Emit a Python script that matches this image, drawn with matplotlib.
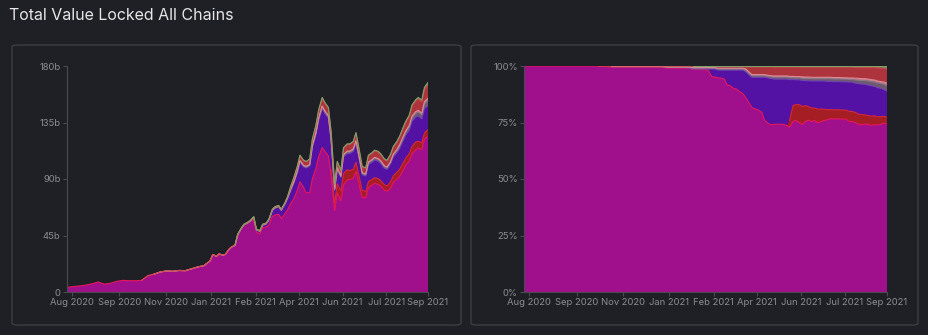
import matplotlib
matplotlib.use("Agg")
import matplotlib.pyplot as plt
import matplotlib.dates as mdates
from matplotlib.patches import FancyBboxPatch
from matplotlib.ticker import FixedLocator, FuncFormatter
import numpy as np
import pandas as pd

plt.rcParams['font.family'] = ['Inter', 'DejaVu Sans']

# dates: weekly in 2020, Mondays + Thursdays in 2021
dates_2020 = pd.date_range('2020-07-27', '2020-12-28', freq='7D')
dates_2021 = pd.date_range('2021-01-04', '2021-09-06', freq='W-MON').union(
    pd.date_range('2021-01-07', '2021-09-02', freq='W-THU'))
dates = dates_2020.append(dates_2021)

# total value locked, billions (top of the stack)
total = [
    3.7, 4.3, 4.8, 5.5, 6.5, 8.0, 6.3, 7.0, 8.5, 9.3, 9.0, 9.0,
    9.3, 13.0, 14.3, 16.0, 16.8, 16.5, 17.2, 17.0, 18.5, 20.0, 21.0,
    25, 30, 28.5, 30.5, 29.5, 30, 34, 36,                 # jan
    37.5, 46, 51, 54, 55.5, 57, 60, 50,                   # feb
    49, 54, 55, 58, 66, 68, 69, 66, 71,                   # mar
    76, 85, 91, 100, 109, 105, 104, 106, 122,             # apr
    133, 145, 155, 151, 147, 128, 86, 104, 97,            # may
    115, 118, 118, 120, 127, 112, 100, 99,                # jun
    109, 111, 113, 112, 110, 106, 105, 110, 116,          # jul
    120, 124, 131, 136, 141, 149, 153, 155, 153,          # aug
    163, 167,                                             # sep
]

# shares in percent of the non-ethereum chains
share_polygon = [
    0, 0, 0, 0, 0, 0, 0, 0, 0, 0, 0, 0,
    0, 0, 0, 0, 0, 0, 0, 0, 0, 0, 0,
    0, 0, 0, 0, 0, 0, 0, 0,
    0, 0, 0, 0, 0, 0, 0, 0,
    0, 0, 0, 0, 0, 0, 0, 0, 0,
    0, 0, 0, 0, 0, 0, 0, 0, 0,
    0, 0, 0, 0, 0, 3.0, 7.0, 7.0, 8.0,
    8.0, 7.0, 6.0, 6.0, 5.5, 6.0, 5.5, 5.0,
    4.5, 4.0, 4.0, 4.0, 4.0, 4.0, 4.0, 4.5, 4.5,
    4.5, 4.5, 4.5, 4.0, 4.0, 4.0, 4.0, 3.5, 3.5,
    3.0, 3.0,
]
share_bsc = [
    0, 0, 0, 0, 0, 0, 0, 0, 0, 0, 0, 0,
    0, 0, 0, 0, 0, 0, 0, 0, 0, 0, 0,
    0, 0, 0, 0, 0, 0, 0.1, 0.1,
    0.2, 0.2, 0.3, 0.3, 0.4, 0.5, 3.5, 3.5,
    3.5, 3.5, 4.0, 6.5, 7.0, 8.0, 8.5, 9.5, 10.5,
    11.5, 12.5, 13.5, 14.0, 14.5, 15.5, 19.0, 20.0, 20.5,
    20.0, 20.0, 20.0, 20.0, 20.5, 18.0, 11.5, 11.0, 11.0,
    11.5, 11.0, 11.5, 12.0, 12.0, 12.5, 12.5, 12.5,
    12.5, 12.5, 12.5, 12.5, 12.5, 12.5, 12.5, 13.0, 13.0,
    13.0, 13.5, 13.5, 13.5, 13.5, 13.5, 13.0, 13.0, 12.5,
    12.0, 11.5,
]
share_grey = [
    0, 0, 0, 0, 0, 0, 0, 0, 0, 0, 0, 0,
    0, 0, 0.2, 0.2, 0.2, 0.2, 0.2, 0.2, 0.2, 0.2, 0.2,
    0.3, 0.3, 0.3, 0.3, 0.3, 0.3, 0.3, 0.3,
    0.4, 0.4, 0.4, 0.4, 0.4, 0.4, 0.4, 0.4,
    0.5, 0.5, 0.5, 0.5, 0.5, 0.5, 0.5, 0.5, 0.5,
    0.7, 0.7, 0.7, 0.7, 0.7, 0.7, 0.7, 0.7, 0.7,
    0.9, 0.9, 0.9, 0.9, 0.9, 0.9, 0.9, 0.9, 0.9,
    1.0, 1.0, 1.0, 1.0, 1.0, 1.0, 1.0, 1.0,
    1.2, 1.2, 1.2, 1.2, 1.2, 1.2, 1.2, 1.2, 1.2,
    1.4, 1.5, 1.6, 1.7, 1.8, 1.9, 2.0, 2.1, 2.2,
    2.3, 2.5,
]
share_pink = [
    0, 0, 0, 0, 0, 0, 0, 0, 0, 0, 0, 0,
    0, 0, 0.1, 0.1, 0.1, 0.1, 0.1, 0.1, 0.1, 0.1, 0.1,
    0.2, 0.2, 0.2, 0.2, 0.2, 0.2, 0.2, 0.2,
    0.2, 0.2, 0.2, 0.2, 0.2, 0.2, 0.2, 0.2,
    0.3, 0.3, 0.3, 0.3, 0.3, 0.3, 0.3, 0.3, 0.3,
    0.5, 0.5, 0.5, 0.5, 0.5, 0.5, 0.5, 0.5, 0.5,
    0.5, 0.5, 0.5, 0.5, 0.5, 0.5, 0.5, 0.5, 0.5,
    0.6, 0.6, 0.6, 0.6, 0.6, 0.6, 0.6, 0.6,
    0.6, 0.6, 0.6, 0.6, 0.6, 0.6, 0.6, 0.6, 0.6,
    0.8, 0.8, 0.8, 0.8, 0.8, 0.8, 0.8, 0.8, 0.8,
    1.0, 1.0,
]
share_terra = [
    0, 0, 0, 0, 0, 0, 0, 0, 0, 0, 0, 0,
    0.2, 0.2, 0.2, 0.2, 0.2, 0.2, 0.2, 0.2, 0.2, 0.2, 0.2,
    0.4, 0.4, 0.4, 0.4, 0.4, 0.4, 0.4, 0.4,
    0.6, 0.6, 0.6, 0.6, 0.6, 0.6, 0.6, 0.6,
    0.8, 0.8, 0.8, 0.8, 0.8, 0.8, 0.8, 0.8, 0.8,
    1.0, 2.5, 3.5, 3.5, 3.5, 3.5, 3.5, 3.8, 4.0,
    4.0, 4.0, 4.0, 4.0, 4.0, 4.2, 4.2, 4.3, 4.3,
    4.3, 4.4, 4.4, 4.5, 4.5, 4.5, 4.5, 4.5,
    4.5, 4.5, 4.6, 4.6, 4.6, 4.7, 4.7, 4.8, 4.8,
    4.8, 4.9, 5.0, 5.0, 5.2, 5.4, 5.6, 5.8, 6.0,
    6.0, 6.3,
]
share_green = [
    0, 0, 0, 0, 0, 0, 0, 0, 0, 0, 0, 0,
    0, 0, 0, 0, 0, 0, 0, 0, 0, 0, 0,
    0, 0, 0, 0, 0, 0, 0, 0,
    0.1, 0.1, 0.1, 0.1, 0.1, 0.1, 0.1, 0.1,
    0.2, 0.2, 0.2, 0.2, 0.2, 0.2, 0.2, 0.2, 0.2,
    0.3, 0.3, 0.3, 0.3, 0.3, 0.3, 0.3, 0.3, 0.3,
    0.4, 0.4, 0.4, 0.4, 0.4, 0.4, 0.4, 0.4, 0.4,
    0.5, 0.5, 0.5, 0.5, 0.5, 0.5, 0.5, 0.5,
    0.5, 0.5, 0.5, 0.5, 0.5, 0.5, 0.5, 0.5, 0.5,
    0.6, 0.6, 0.6, 0.6, 0.6, 0.6, 0.6, 0.8, 0.9,
    1.0, 1.3,
]

tick_dates = ['2020-08-02', '2020-09-24', '2020-11-15', '2021-01-05', '2021-02-24',
              '2021-04-14', '2021-06-02', '2021-07-21', '2021-09-06']
tick_labels = ['Aug 2020', 'Sep 2020', 'Nov 2020', 'Jan 2021', 'Feb 2021',
               'Apr 2021', 'Jun 2021', 'Jul 2021', 'Sep 2021']

others = np.array([share_polygon, share_bsc, share_grey, share_pink, share_terra, share_green])
share_eth = 100 - others.sum(axis=0)
shares = np.vstack([share_eth, others]) / 100.0
values = shares * np.array(total)

fills = ['#a1108c', '#a51e24', '#5412a4', '#6f5a70', '#c97888', '#ad343c', '#6b8a58']
edges = ['#e8175c', '#d8283a', '#7048b0', '#8a7a8a', '#e08a96', '#d04a50', '#7fa066']

bg = '#1f2026'
txt = '#8c8d93'
spine = '#4a4b52'

fig = plt.figure(figsize=(9.29, 3.35), dpi=100, facecolor=bg)

for x0, x1 in [(12, 461), (471, 918)]:
    fig.patches.append(FancyBboxPatch(
        (x0 / 929, 10 / 335), (x1 - x0) / 929, 280 / 335,
        boxstyle='round,pad=0,rounding_size=0.006', transform=fig.transFigure,
        facecolor='none', edgecolor='#3c3d44', linewidth=1.0, zorder=0))

fig.text(9 / 929, 1 - 15 / 335, 'Total Value Locked All Chains', color='#e6e6e8',
         fontsize=11.5, va='center', ha='left')

ax1 = fig.add_axes([67 / 929, 43 / 335, 361 / 929, 226 / 335])
ax2 = fig.add_axes([524 / 929, 43 / 335, 363 / 929, 226 / 335])

for ax, data in [(ax1, values), (ax2, shares)]:
    ax.stackplot(dates, data, colors=fills, linewidth=0)
    tops = np.cumsum(data, axis=0)
    for i, e in enumerate(edges):
        line = np.where(data[i] > 0, tops[i], np.nan)
        ax.plot(dates, line, color=e, lw=0.8)
    ax.set_facecolor(bg)
    ax.set_xlim(pd.Timestamp('2020-07-27'), pd.Timestamp('2021-09-06'))
    ax.xaxis.set_major_locator(FixedLocator(mdates.date2num(pd.to_datetime(tick_dates))))
    ax.set_xticklabels(tick_labels)
    for s in ['top', 'right']:
        ax.spines[s].set_visible(False)
    for s in ['left', 'bottom']:
        ax.spines[s].set_color(spine)
    ax.tick_params(colors=spine, labelcolor=txt, labelsize=6.8, length=3, pad=1.5)

ax1.set_ylim(0, 180)
ax1.set_yticks([0, 45, 90, 135, 180])
ax1.yaxis.set_major_formatter(FuncFormatter(lambda v, p: '0' if v == 0 else f'{v:.0f}b'))

ax2.set_ylim(0, 1)
ax2.set_yticks([0, 0.25, 0.5, 0.75, 1.0])
ax2.yaxis.set_major_formatter(FuncFormatter(lambda v, p: f'{v * 100:.0f}%'))

fig.savefig('out.png', dpi=100, facecolor=bg)
